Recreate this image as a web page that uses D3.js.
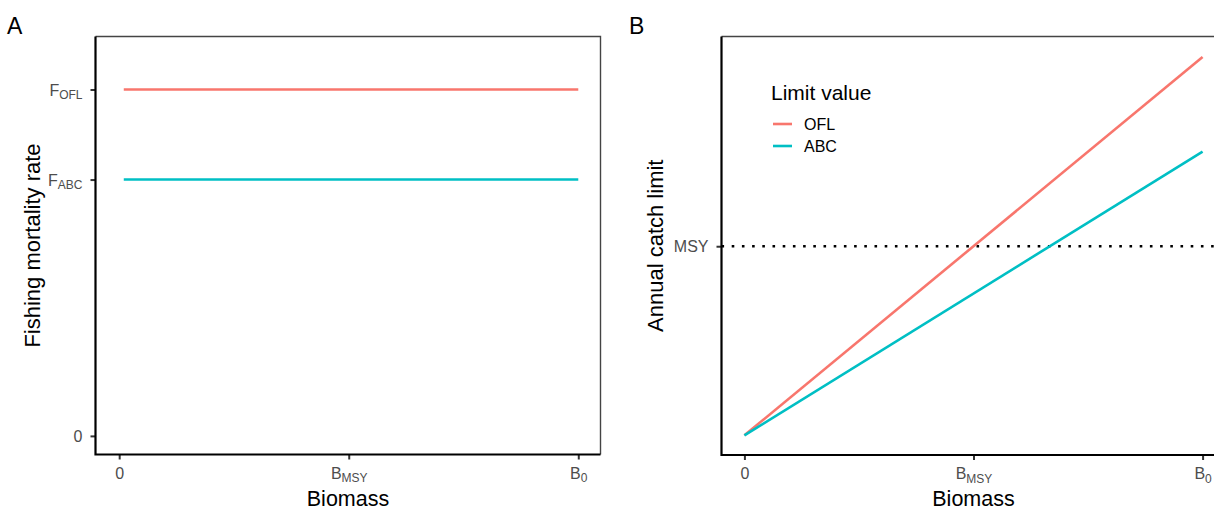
<!DOCTYPE html>
<html>
<head>
<meta charset="utf-8">
<script src="https://cdn.jsdelivr.net/npm/d3@7"></script>
<style>
  html, body { margin: 0; padding: 0; background: #fff; overflow: hidden; }
  svg { display: block; font-family: "Liberation Sans", Arial, sans-serif; }
</style>
</head>
<body>
<svg id="chart" width="1214" height="511"></svg>
<script>
// Harvest control rule: fishing mortality (A) and resulting catch limits (B)
const limitNames = ["OFL", "ABC"];
const limitColors = ["#F8766D", "#00BFC4"];

// Panel A: constant fishing mortality rates (relative to F_OFL)
const rateBiomass = [0.01, 1];
const rateOFL = [1, 1];
const rateABC = [0.74, 0.74];

// Panel B: annual catch limit vs biomass (relative to MSY)
const catchBiomass = [0, 1];
const catchOFL = [0, 2];
const catchABC = [0, 1.5];
const msyValue = 1;

// Tick labels (base text + subscript)
const biomassTickValues = [0, 0.5, 1];
const biomassTickLabels = [["0", ""], ["B", "MSY"], ["B", "0"]];
const rateTickValues = [0, 0.74, 1];
const rateTickLabels = [["0", ""], ["F", "ABC"], ["F", "OFL"]];
const catchTickValues = [msyValue];
const catchTickLabels = [["MSY", ""]];

const svg = d3.select("#chart");

function labelWithSub(sel, labels) {
  sel.each(function(d, i) {
    const t = d3.select(this);
    t.text(null);
    const [base, sub] = labels[i];
    t.append("tspan").text(base);
    if (sub) {
      t.append("tspan").attr("font-size", 12).attr("dy", 3.5).text(sub);
    }
  });
}

function styleAxis(g) {
  g.select(".domain").remove();
  g.selectAll(".tick line").attr("stroke", "#333").attr("stroke-width", 2);
  g.selectAll(".tick text").attr("fill", "#4d4d4d").attr("font-size", 16)
    .attr("font-family", "Liberation Sans, Arial, sans-serif");
}

function panel(opts) {
  const { x0, x1, y0, y1, xDomain, yDomain } = opts;
  const x = d3.scaleLinear().domain(xDomain).range([x0, x1]);
  const y = d3.scaleLinear().domain(yDomain).range([y1, y0]);
  const g = svg.append("g");

  // panel border (top/right)
  g.append("path")
    .attr("d", `M${x0},${y0}H${x1}V${y1}`)
    .attr("fill", "none").attr("stroke", "#444").attr("stroke-width", 1.4);

  // x axis
  const gx = g.append("g").attr("transform", `translate(0,${y1})`)
    .call(d3.axisBottom(x).tickValues(biomassTickValues).tickSize(5).tickPadding(6));
  styleAxis(gx);
  gx.selectAll(".tick text").attr("dy", "0.82em").call(labelWithSub, biomassTickLabels);

  // y axis
  const gy = g.append("g").attr("transform", `translate(${x0},0)`)
    .call(d3.axisLeft(y).tickValues(opts.yTicks).tickSize(5).tickPadding(8));
  styleAxis(gy);
  gy.selectAll(".tick text").attr("dy", "0.35em").call(labelWithSub, opts.yTickLabels);

  // axis lines (left + bottom)
  g.append("path")
    .attr("d", `M${x0},${y0}V${y1}H${x1}`)
    .attr("fill", "none").attr("stroke", "#000").attr("stroke-width", 2.2);

  // titles
  g.append("text")
    .attr("x", (x0 + x1) / 2).attr("y", 506)
    .attr("text-anchor", "middle").attr("font-size", 21.5).attr("fill", "#000")
    .text("Biomass");
  g.append("text")
    .attr("transform", `translate(${opts.yTitleX},${(y0 + y1) / 2}) rotate(-90)`)
    .attr("text-anchor", "middle").attr("font-size", 22).attr("fill", "#000")
    .text(opts.yTitle);
  g.append("text")
    .attr("x", opts.tagX).attr("y", 34)
    .attr("font-size", 23).attr("fill", "#000")
    .text(opts.tag);

  return { g, x, y };
}

const line = (x, y, xs) => d3.line().x((d, i) => x(xs[i])).y(d => y(d));

// Panel A
const A = panel({
  x0: 95.5, x1: 600.5, y0: 36.5, y1: 454.5,
  xDomain: [-0.0516, 1.0484], yDomain: [-0.0537, 1.153],
  yTicks: rateTickValues, yTickLabels: rateTickLabels,
  yTitle: "Fishing mortality rate", yTitleX: 40, tag: "A", tagX: 7
});
[rateOFL, rateABC].forEach((vals, k) => {
  A.g.append("path").datum(vals)
    .attr("d", line(A.x, A.y, rateBiomass))
    .attr("fill", "none").attr("stroke", limitColors[k]).attr("stroke-width", 2.6);
});

// Panel B
const B = panel({
  x0: 721.5, x1: 1225.5, y0: 36.5, y1: 455,
  xDomain: [-0.05, 1.05], yDomain: [-0.104, 2.109],
  yTicks: catchTickValues, yTickLabels: catchTickLabels,
  yTitle: "Annual catch limit", yTitleX: 663, tag: "B", tagX: 629
});
// MSY reference line
B.g.append("line")
  .attr("x1", B.x(-0.05)).attr("x2", B.x(1.05))
  .attr("y1", B.y(msyValue)).attr("y2", B.y(msyValue))
  .attr("stroke", "#000").attr("stroke-width", 2.6)
  .attr("stroke-dasharray", "2.6 7.6");
[catchOFL, catchABC].forEach((vals, k) => {
  B.g.append("path").datum(vals)
    .attr("d", line(B.x, B.y, catchBiomass))
    .attr("fill", "none").attr("stroke", limitColors[k]).attr("stroke-width", 2.6);
});

// Legend
const leg = B.g.append("g").attr("transform", "translate(771,0)");
leg.append("text").attr("x", 0).attr("y", 100)
  .attr("font-size", 21).attr("fill", "#000").text("Limit value");
limitNames.forEach((name, k) => {
  const yy = 124 + k * 22;
  leg.append("line").attr("x1", 2).attr("x2", 21).attr("y1", yy).attr("y2", yy)
    .attr("stroke", limitColors[k]).attr("stroke-width", 2.6);
  leg.append("text").attr("x", 33).attr("y", yy).attr("dy", "0.36em")
    .attr("font-size", 16).attr("fill", "#000").text(name);
});
</script>
</body>
</html>
